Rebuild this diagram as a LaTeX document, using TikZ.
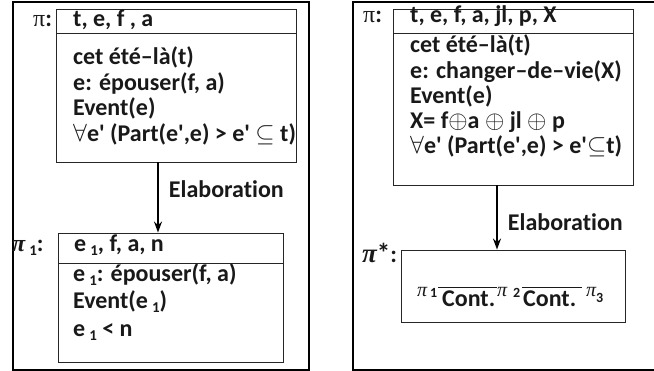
\documentclass[tikz,border=0pt]{standalone}
\usepackage{fontspec}
\setmainfont{Carlito}[Ligatures=NoCommon]
\newfontfamily\grk{Liberation Serif}
\usetikzlibrary{arrows.meta}
\tikzstyle{panel}=[line width=1.3pt]
\tikzstyle{drsbox}=[draw=black!85, line width=0.9pt, inner sep=0pt]
\tikzstyle{cond}=[anchor=base west, inner sep=0pt, text height=15pt, text depth=5pt,
  text=black!90, font=\fontsize{24}{26}\selectfont\bfseries]
\tikzstyle{elab}=[-{Stealth[length=11pt,width=8pt]}, line width=1.8pt]
\newcommand{\idx}[1]{\,\raisebox{-4pt}{\fontsize{15}{15}\selectfont #1}}
\newcommand{\pr}{\textquotesingle}
\newcommand{\pisym}{{\grk\mdseries\itshape\fontsize{20}{20}\selectfont π}}
\newcommand{\cont}[2]{\vbox{\hrule width #1 height 0.8pt\kern 3pt\hbox to #1{\hskip #2 Cont.\hss}}}

\begin{document}
\begin{tikzpicture}[x=1pt, y=-1pt]
\useasboundingbox (0,0) rectangle (654,371);

% left panel
\draw[panel] (13,2) rectangle (309,370);
\node[drsbox, minimum width=240pt, minimum height=153pt] at (176,85.5) (pi) {};
\draw[drsbox] (56,33) -- (296,33);
\node[cond] at (33,27) (pilab) {{\grk\mdseries π}:};
\node[cond] at (73,27) (ua) {t, e, f , a};
\node[cond] at (73,65) (ca1) {cet été–là(t)};
\node[cond] at (73,91) (ca2) {e: épouser(f, a)};
\node[cond] at (73,116) (ca3) {Event(e)};
\node[cond] at (73,142) (ca4) {$\forall$e\pr{} (Part(e\pr,e) > e\pr{} $\subseteq$ t)};

\node[drsbox, minimum width=225pt, minimum height=129pt] at (170.5,297.5) (pione) {};
\draw[drsbox] (58,263) -- (283,263);
\node[cond] at (12,252) (pionelab) {{\grk\itshape π}\idx{1}:};
\node[cond] at (74,252) (ub) {e\idx{1}, f, a, n};
\node[cond] at (73,282) (cb1) {e\idx{1}: épouser(f, a)};
\node[cond] at (73,309) (cb2) {Event(e\idx{1})};
\node[cond] at (73,337) (cb3) {e\idx{1} < n};

\draw[elab] ([xshift=-18pt]pi.south) -- ([xshift=-12.5pt]pione.north)
  node[cond, pos=0.5, xshift=10pt] (elab1) {Elaboration};

% right panel
\draw[panel] (654,2) -- (353,2) -- (353,370) -- (654,370);
\node[drsbox, minimum width=240pt, minimum height=176pt] at (513,97) (pir) {};
\draw[drsbox] (393,33) -- (633,33);
\node[cond] at (363,23) (pirlab) {{\grk\mdseries π}:};
\node[cond] at (410,23) (uc) {t, e, f, a, jl, p, X};
\node[cond] at (410,53) (cc1) {cet été–là(t)};
\node[cond] at (410,79) (cc2) {e: changer–de–vie(X)};
\node[cond] at (410,104) (cc3) {Event(e)};
\node[cond] at (410,129) (cc4) {X= f$\oplus$a $\oplus$ jl $\oplus$ p};
\node[cond] at (410,154) (cc5) {$\forall$e\pr{} (Part(e\pr,e) > e\pr$\subseteq$t)};

\node[drsbox, minimum width=224pt, minimum height=72pt] at (513,286) (pistar) {};
\node[cond] at (362,263) (pistarlab)
  {{\grk\itshape\fontsize{27}{27}\selectfont π}{\fontsize{27}{27}\selectfont *}:};
\node[cond] at (417,307) (chain)
  {\makebox[21pt][l]{\raisebox{10pt}{\pisym}\hspace{3pt}\raisebox{9pt}{\fontsize{14}{14}\selectfont 1}}%
   \cont{59pt}{4pt}%
   \makebox[25pt][l]{\raisebox{10pt}{\pisym}\hspace{6pt}\raisebox{9pt}{\fontsize{14}{14}\selectfont 2}}%
   \cont{60pt}{1pt}\hspace{4pt}%
   \raisebox{10pt}{\pisym}\raisebox{4pt}{\fontsize{14}{14}\selectfont 3}};

\draw[elab] ([xshift=-16pt]pir.south) -- ([xshift=-16pt]pistar.north)
  node[cond, pos=0.7, xshift=10pt] (elab2) {Elaboration};

\end{tikzpicture}
\end{document}
